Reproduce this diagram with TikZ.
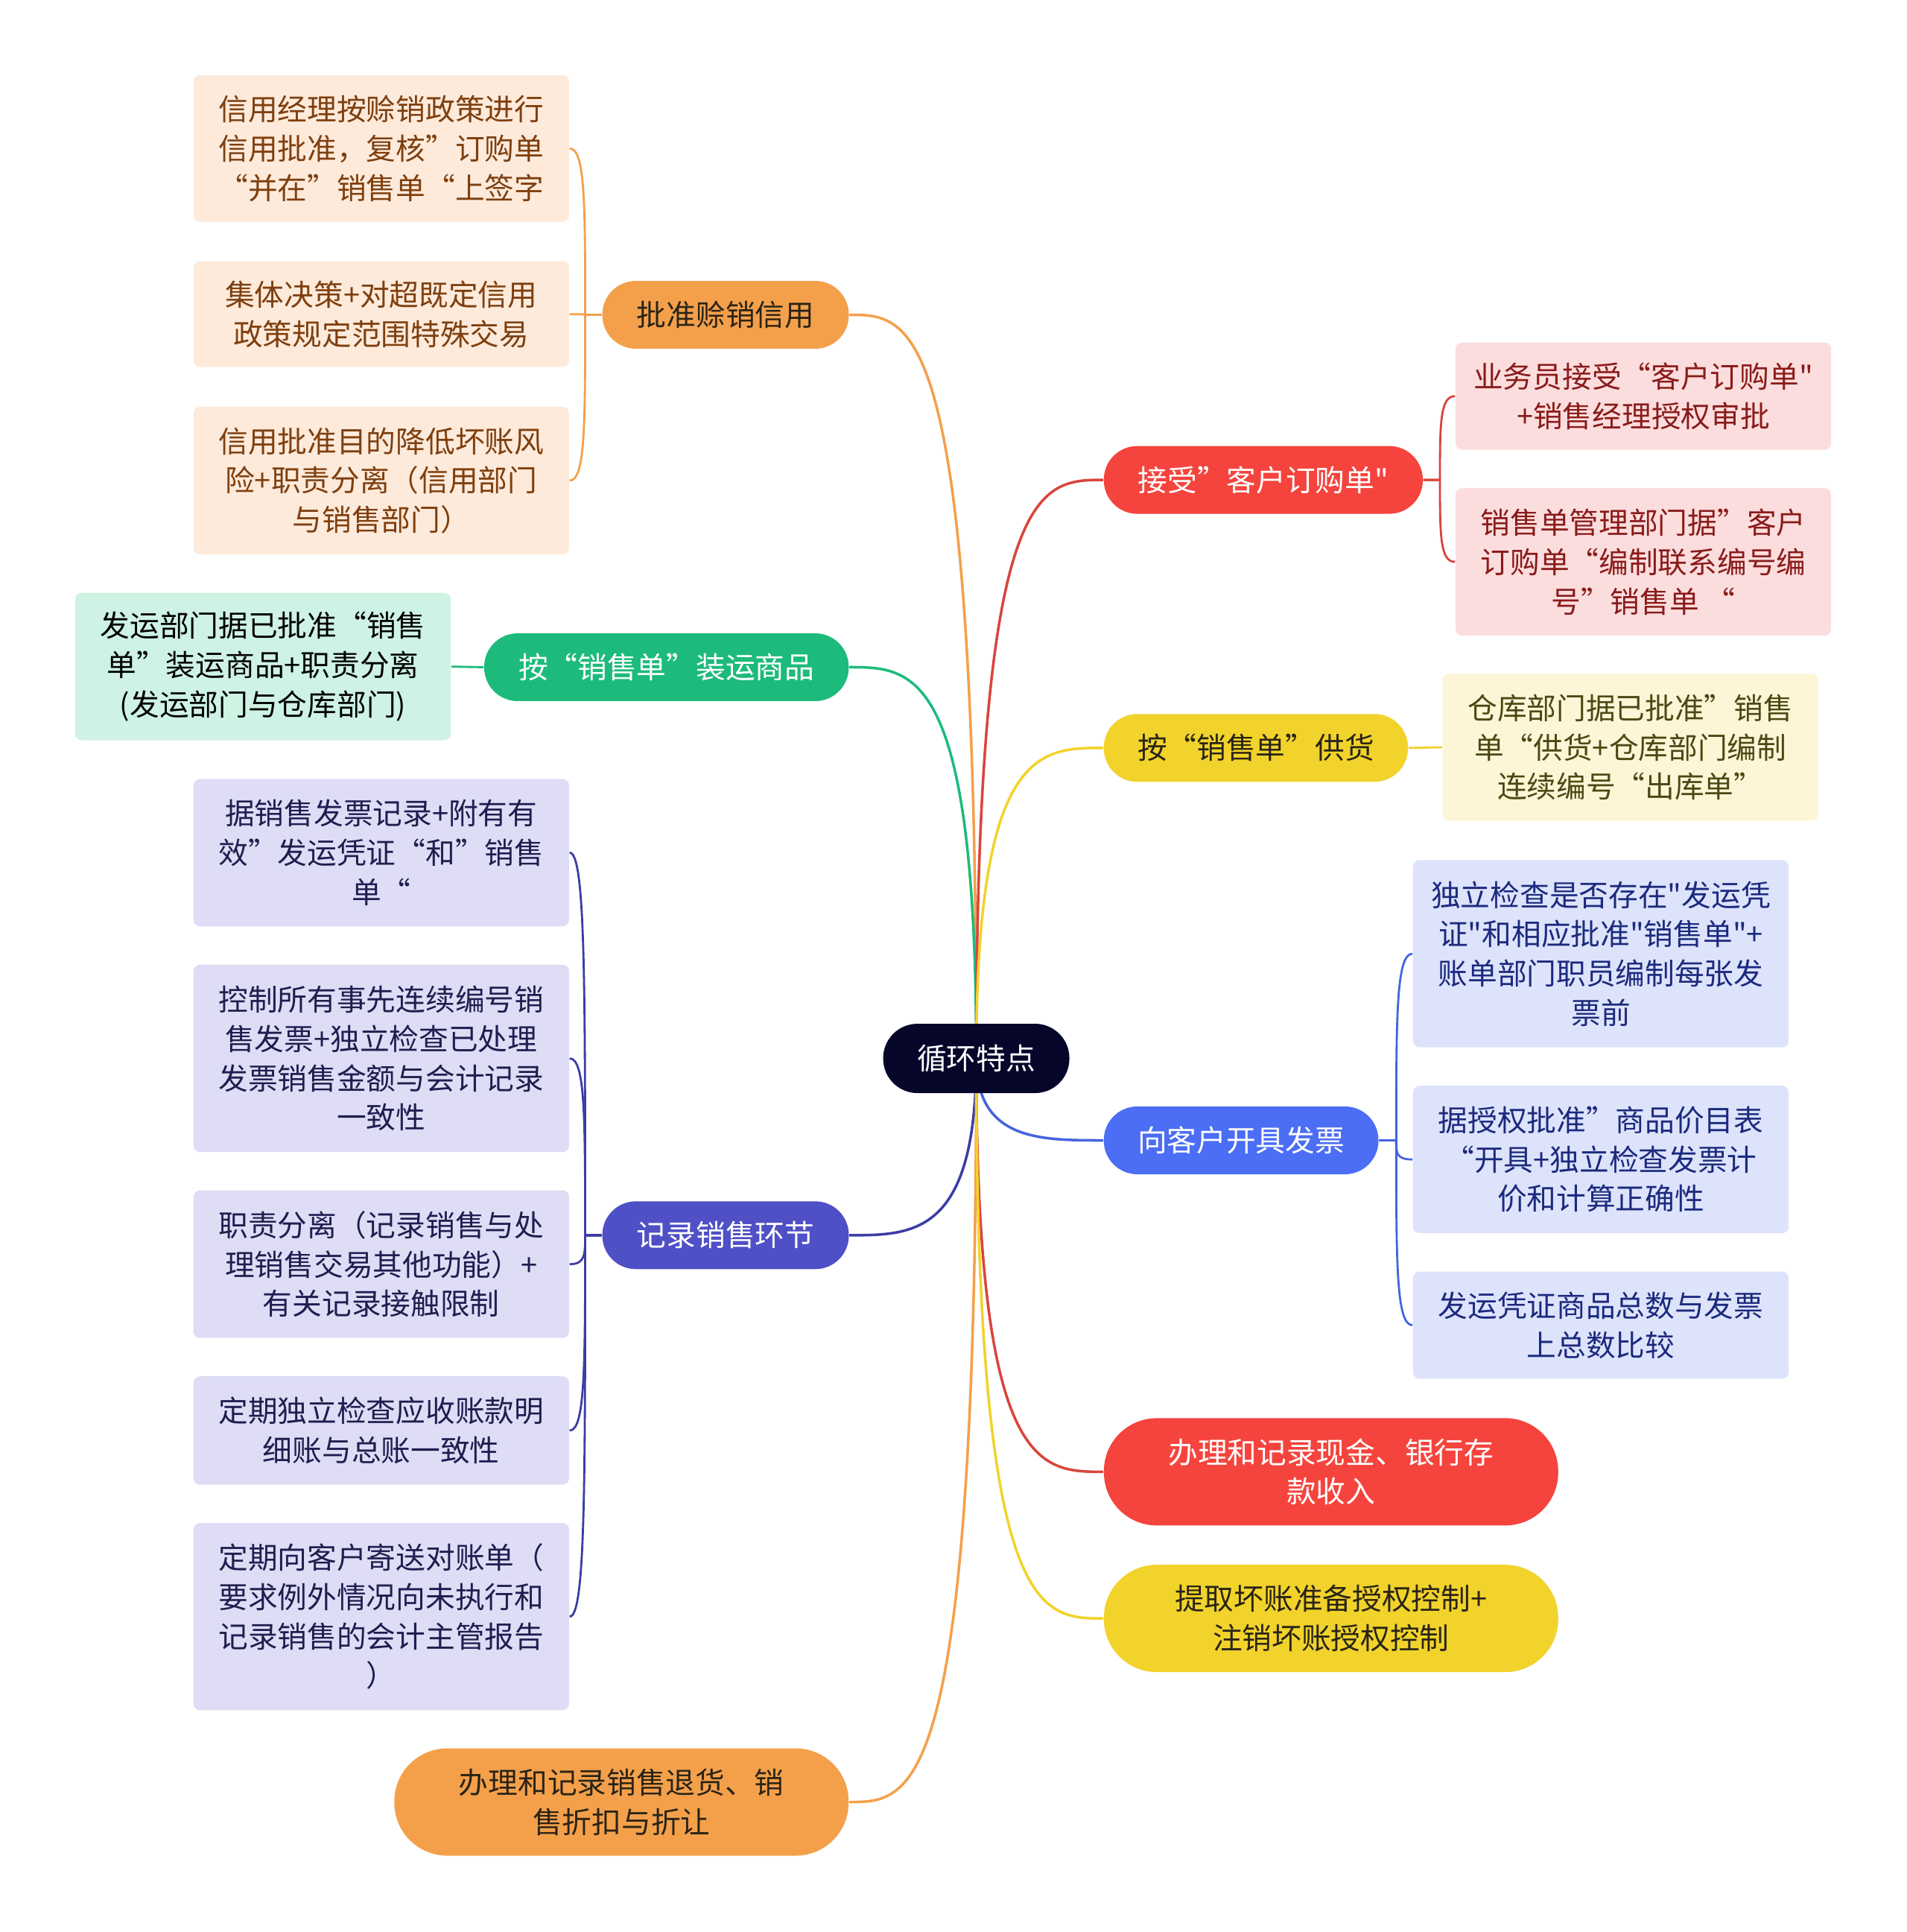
\documentclass[tikz,border=0pt]{standalone}
\usepackage{fontspec}
\newfontfamily\cjkfont{Noto Sans CJK SC}
\usepackage{xcolor}
\definecolor{mmroot}{HTML}{06062B}
\definecolor{mmdark}{HTML}{2A2416}
\definecolor{mmorange}{HTML}{F4A04B}
\definecolor{mmpeach}{HTML}{FDEADA}
\definecolor{mmpeachtext}{HTML}{7F3F0F}
\definecolor{mmgreen}{HTML}{1DBB7B}
\definecolor{mmmint}{HTML}{CEF2E3}
\definecolor{mmpurple}{HTML}{4F4FC6}
\definecolor{mmpurpleline}{HTML}{3D3DA5}
\definecolor{mmlavender}{HTML}{DEDDF5}
\definecolor{mmpurpletext}{HTML}{1E1E50}
\definecolor{mmred}{HTML}{F5443D}
\definecolor{mmredline}{HTML}{D9453D}
\definecolor{mmpink}{HTML}{FCDDDD}
\definecolor{mmredtext}{HTML}{8A1B1B}
\definecolor{mmyellow}{HTML}{F1D32B}
\definecolor{mmcream}{HTML}{FCF6D7}
\definecolor{mmyellowtext}{HTML}{4C4812}
\definecolor{mmblue}{HTML}{4B6EF5}
\definecolor{mmblueline}{HTML}{4565DD}
\definecolor{mmperi}{HTML}{DDE3FA}
\definecolor{mmbluetext}{HTML}{1B2A7E}
\usetikzlibrary{backgrounds, calc}

\newcommand{\mapfont}{\cjkfont\fontsize{11.3}{15}\selectfont}

\tikzset{
  rootbox/.style={rectangle, rounded corners=0.46cm, fill=mmroot, text=white,
    minimum width=2.5cm, minimum height=0.93cm, inner sep=0pt, font=\mapfont},
  topic/.style={rectangle, rounded corners=0.45cm, minimum height=0.91cm,
    inner sep=0pt, align=center, font=\mapfont},
  bigtopic/.style={topic, rounded corners=0.71cm, minimum height=1.44cm, minimum width=6.1cm},
  leaf/.style={rectangle, rounded corners=2.5pt, minimum width=5.044cm,
    inner sep=0pt, align=center, font=\mapfont},
  peachleaf/.style={leaf, fill=mmpeach, text=mmpeachtext},
  lavleaf/.style={leaf, fill=mmlavender, text=mmpurpletext},
  pinkleaf/.style={leaf, fill=mmpink, text=mmredtext},
  periLeaf/.style={leaf, fill=mmperi, text=mmbluetext},
  trunk/.style={line width=1pt,
    to path={.. controls (\tikztostart |- \tikztotarget) and ([xshift=#1]\tikztotarget) .. (\tikztotarget)}},
  twig/.style={line width=0.8pt,
    to path={-- ++(#1,0) coordinate (tw)
      .. controls ($(tw)!0.667!(tw |- \tikztotarget)$) and (tw |- \tikztotarget) .. (\tikztotarget)}}
}

\begin{document}
\begin{tikzpicture}[x=0.016537cm, y=-0.016537cm]
  \useasboundingbox (0,0) rectangle (1548,1568);

  % root
  \node[rootbox] (root) at (792.5,859) {循环特点};

  % --- left side ---
  \node[topic, fill=mmorange, text=mmdark, minimum width=3.31cm] (credit) at (589,255.5) {批准赊销信用};
  \node[peachleaf, minimum height=1.97cm] (credit1) at (309.5,120.5) {信用经理按赊销政策进行\\信用批准，复核”订购单\\“并在”销售单“上签字};
  \node[peachleaf, minimum height=1.42cm] (credit2) at (309.5,255) {集体决策+对超既定信用\\政策规定范围特殊交易};
  \node[peachleaf, minimum height=1.98cm] (credit3) at (309.5,390) {信用批准目的降低坏账风\\险+职责分离（信用部门\\与销售部门）};

  \node[topic, fill=mmgreen, text=white, minimum width=4.895cm] (ship) at (541,541.5) {按“销售单”装运商品};
  \node[leaf, fill=mmmint, text=black, minimum height=1.98cm] (ship1) at (213.5,541) {发运部门据已批准“销售\\单”装运商品+职责分离\\(发运部门与仓库部门)};

  \node[topic, fill=mmpurple, text=white, minimum width=3.31cm] (record) at (589,1002.5) {记录销售环节};
  \node[lavleaf, minimum height=1.98cm] (record1) at (309.5,692) {据销售发票记录+附有有\\效”发运凭证“和”销售\\单“};
  \node[lavleaf, minimum height=2.514cm] (record2) at (309.5,859) {控制所有事先连续编号销\\售发票+独立检查已处理\\发票销售金额与会计记录\\一致性};
  \node[lavleaf, minimum height=1.98cm] (record3) at (309.5,1026) {职责分离（记录销售与处\\理销售交易其他功能）+\\有关记录接触限制};
  \node[lavleaf, minimum height=1.455cm] (record4) at (309.5,1161) {定期独立检查应收账款明\\细账与总账一致性};
  \node[lavleaf, minimum height=2.514cm] (record5) at (309.5,1312) {定期向客户寄送对账单（\\要求例外情况向未执行和\\记录销售的会计主管报告\\）};

  \node[bigtopic, fill=mmorange, text=mmdark] (returns) at (504.5,1462.5) {办理和记录销售退货、销\\售折扣与折让};

  % --- right side ---
  \node[topic, fill=mmred, text=white, minimum width=4.283cm] (accept) at (1025.5,389.5) {接受”客户订购单"};
  \node[pinkleaf, minimum height=1.44cm] (accept1) at (1334,321.5) {业务员接受“客户订购单"\\+销售经理授权审批};
  \node[pinkleaf, minimum height=1.98cm] (accept2) at (1334,456) {销售单管理部门据”客户\\订购单“编制联系编号编\\号”销售单 “};

  \node[topic, fill=mmyellow, text=mmdark, minimum width=4.085cm] (supply) at (1019.5,607) {按“销售单”供货};
  \node[leaf, fill=mmcream, text=mmyellowtext, minimum height=1.97cm] (supply1) at (1323.5,606.5) {仓库部门据已批准”销售\\单“供货+仓库部门编制\\连续编号“出库单”};

  \node[topic, fill=mmblue, text=white, minimum width=3.688cm] (invoice) at (1007.5,925.5) {向客户开具发票};
  \node[periLeaf, minimum height=2.514cm] (invoice1) at (1299.5,774) {独立检查是否存在"发运凭\\证"和相应批准"销售单"+\\账单部门职员编制每张发\\票前};
  \node[periLeaf, minimum height=1.98cm] (invoice2) at (1299.5,941) {据授权批准”商品价目表\\“开具+独立检查发票计\\价和计算正确性};
  \node[periLeaf, minimum height=1.44cm] (invoice3) at (1299.5,1075.5) {发运凭证商品总数与发票\\上总数比较};

  \node[bigtopic, fill=mmred, text=white] (cash) at (1080.5,1194.5) {办理和记录现金、银行存\\款收入};
  \node[bigtopic, fill=mmyellow, text=mmdark] (baddebt) at (1080.5,1313.5) {提取坏账准备授权控制+\\注销坏账授权控制};

  % connectors
  \begin{scope}[on background layer]
    \draw[trunk=0.86cm, mmorange] (root.center) to (credit.east);
    \draw[trunk=0.86cm, mmgreen] (root.center) to (ship.east);
    \draw[trunk=0.86cm, mmpurpleline] (root.center) to (record.east);
    \draw[trunk=0.86cm, mmorange] (root.center) to (returns.east);
    \draw[trunk=-0.86cm, mmredline] (root.center) to (accept.west);
    \draw[trunk=-0.86cm, mmyellow] (root.center) to (supply.west);
    \draw[trunk=-0.86cm, mmblueline] (root.center) to (invoice.west);
    \draw[trunk=-0.86cm, mmredline] (root.center) to (cash.west);
    \draw[trunk=-0.86cm, mmyellow] (root.center) to (baddebt.west);

    \foreach \leafname in {credit1, credit2, credit3}
      \draw[twig=-13.5, mmorange] (credit.west) to (\leafname.east);
    \draw[line width=0.8pt, mmgreen] (ship.west) -- (ship1.east);
    \foreach \leafname in {record1, record2, record3, record4, record5}
      \draw[twig=-13.5, mmpurpleline] (record.west) to (\leafname.east);
    \foreach \leafname in {accept1, accept2}
      \draw[twig=13.5, mmredline] (accept.east) to (\leafname.west);
    \draw[line width=0.8pt, mmyellow] (supply.east) -- (supply1.west);
    \foreach \leafname in {invoice1, invoice2, invoice3}
      \draw[twig=14, mmblueline] (invoice.east) to (\leafname.west);
  \end{scope}
\end{tikzpicture}
\end{document}
